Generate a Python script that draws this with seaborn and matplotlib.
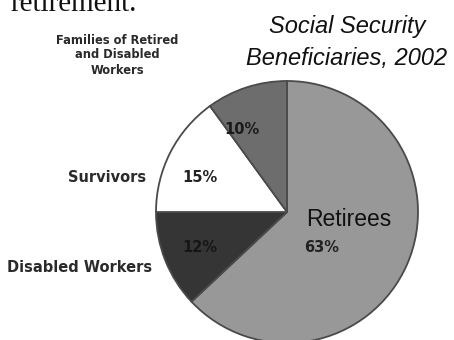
import matplotlib
matplotlib.use("Agg")
import matplotlib.pyplot as plt
from matplotlib import font_manager
import seaborn as sns

# ---- data ----
categories = ["Retirees", "Disabled Workers", "Survivors", "Families of Retired\nand Disabled\nWorkers"]
values = [63, 12, 15, 10]
colors = ["#989898", "#353535", "#ffffff", "#6d6d6d"]
title_lines = ["Social Security", "Beneficiaries, 2002"]
header_text = "retirement."

sns.set_theme(style="white")
plt.rcParams['font.family'] = ['DejaVu Sans']

W, H = 454, 340
fig = plt.figure(figsize=(W / 100, H / 100), dpi=100)
ax = fig.add_axes([0, 0, 1, 1])

def Y(py):
    return H - py

ax.pie(values, colors=colors, startangle=90, counterclock=False,
       center=(287, Y(212)), radius=131, frame=True,
       wedgeprops=dict(edgecolor="#4a4a4a", linewidth=1.3))
ax.set_xlim(0, W)
ax.set_ylim(0, H)
ax.axis("off")

names = {f.name for f in font_manager.fontManager.ttflist}
if "Liberation Sans Narrow" in names:
    tfam, tsize = "Liberation Sans Narrow", 20
else:
    tfam, tsize = "Liberation Sans", 17

ax.text(347, Y(33), title_lines[0], family=tfam, style="italic", size=tsize,
        ha="center", va="baseline", color="#111111")
ax.text(347, Y(65), title_lines[1], family=tfam, style="italic", size=tsize,
        ha="center", va="baseline", color="#111111")

ax.text(10, Y(11), header_text, family="Liberation Serif", size=21,
        ha="left", va="baseline", color="#111111")

# outer category labels
lab_col = "#2a2a2a"
ax.text(117, Y(55), categories[3], size=8.3, weight="bold", ha="center", va="center",
        color=lab_col, linespacing=1.2)
ax.text(107, Y(177), categories[2], size=10.5, weight="bold", ha="center", va="center",
        color=lab_col)
ax.text(80, Y(267), categories[1], size=10.5, weight="bold", ha="center", va="center",
        color=lab_col)

# inner labels
ax.text(349, Y(220), categories[0], family="Liberation Sans", size=16.5,
        ha="center", va="center", color="#111111")
pct_pos = [(322, 248), (200, 247), (200, 177), (242, 130)]
pct_col = ["#222222", "#161616", "#222222", "#1a1a1a"]
for v, (px, py), c in zip(values, pct_pos, pct_col):
    ax.text(px, Y(py), f"{v}%", size=10.5, weight="bold", ha="center", va="center", color=c)

fig.savefig("out.png", dpi=100)
